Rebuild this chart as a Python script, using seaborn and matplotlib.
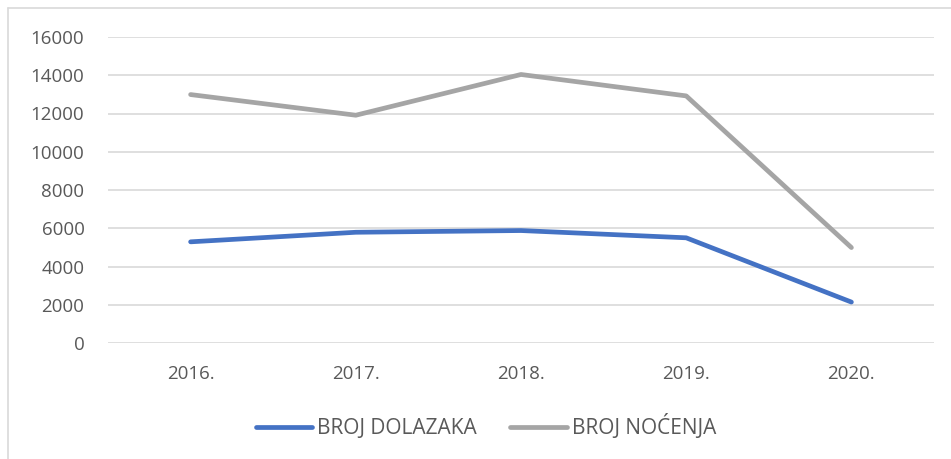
import matplotlib
matplotlib.use("Agg")
import matplotlib.pyplot as plt
import pandas as pd
import seaborn as sns
from matplotlib.lines import Line2D

# Data
years = ["2016.", "2017.", "2018.", "2019.", "2020."]
dolasci = [5290, 5790, 5880, 5500, 2140]
nocenja = [12990, 11910, 14040, 12920, 4990]
series_names = ["BROJ DOLAZAKA", "BROJ NOĆENJA"]
y_ticks = [0, 2000, 4000, 6000, 8000, 10000, 12000, 14000, 16000]

df = pd.DataFrame({
    "godina": years * 2,
    "vrijednost": dolasci + nocenja,
    "serija": [series_names[0]] * len(years) + [series_names[1]] * len(years),
})
df["x"] = df["godina"].map({y: i for i, y in enumerate(years)})

sns.set_style("white")
plt.rcParams["font.family"] = ["Open Sans", "DejaVu Sans"]

text_col = "#595959"
fs = 13.5
W, H, DPI = 951, 459, 100
fig = plt.figure(figsize=(W / DPI, H / DPI), dpi=DPI)
ax = fig.add_axes([108 / W, 1 - 343 / H, (934 - 108) / W, (343 - 37) / H])

palette = {series_names[0]: "#4472C4", series_names[1]: "#A5A5A5"}
sns.lineplot(data=df, x="x", y="vrijednost", hue="serija", palette=palette,
             linewidth=3.4, ax=ax, legend=False, solid_capstyle="round",
             solid_joinstyle="round", sort=False)

ax.set_xlim(-0.5, len(years) - 0.5)
ax.set_ylim(0, 16000)
ax.set_yticks(y_ticks)
ax.set_yticklabels([str(t) for t in y_ticks], color=text_col, fontsize=fs)
ax.set_xticks(range(len(years)))
ax.set_xticklabels(years, color=text_col, fontsize=fs)
ax.tick_params(axis="both", length=0)
ax.tick_params(axis="y", pad=17)
ax.tick_params(axis="x", pad=16)
ax.set_xlabel("")
ax.set_ylabel("")
ax.grid(axis="y", color="#D9D9D9", linewidth=1.2)
ax.set_axisbelow(True)
for s in ax.spines.values():
    s.set_visible(False)

handles = [Line2D([0], [0], color=palette[n], linewidth=3.4, solid_capstyle="round")
           for n in series_names]
fig.legend(handles, series_names, loc="center", bbox_to_anchor=(486 / W, 1 - 427 / H),
           ncol=2, frameon=False, fontsize=15, labelcolor=text_col,
           handlelength=2.7, handletextpad=0.25, columnspacing=1.6)

# chart frame (left and top edges visible)
fig.add_artist(Line2D([8 / W, 8 / W], [0, 1 - 8 / H], color="#D9D9D9", linewidth=1.2,
                      transform=fig.transFigure))
fig.add_artist(Line2D([8 / W, 1], [1 - 8 / H, 1 - 8 / H], color="#D9D9D9", linewidth=1.2,
                      transform=fig.transFigure))

fig.savefig("out.png", dpi=DPI)
